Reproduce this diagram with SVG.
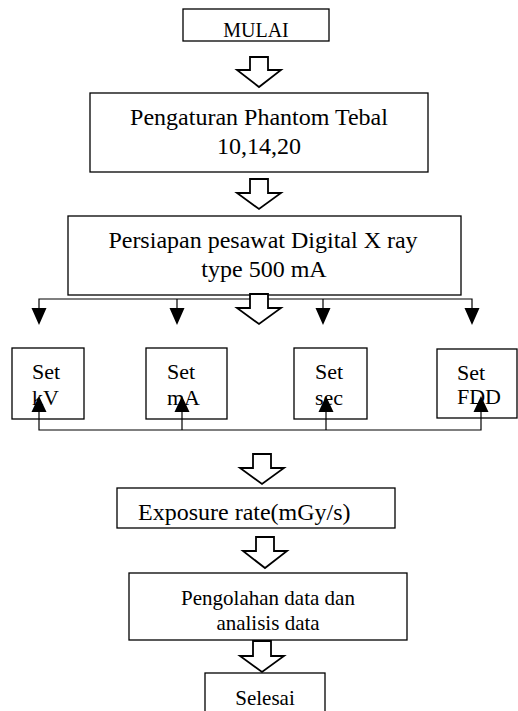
<svg xmlns="http://www.w3.org/2000/svg" width="518" height="711" viewBox="0 0 518 711">
<style>
.box{fill:#fff;stroke:#000;stroke-width:1.3}
.t{font-family:"Liberation Serif","Times New Roman",serif;fill:#000}
.big{font-size:24px}
.mid{font-size:21px}
.hol{fill:#fff;stroke:#000;stroke-width:1.8;stroke-linejoin:miter}
.ln{fill:none;stroke:#000;stroke-width:1.2}
.hd{fill:#000;stroke:none}
</style>
<rect width="518" height="711" fill="#fff"/>
<g id="mulai">
<rect class="box" x="183" y="9" width="146" height="32"/>
<text class="t" x="256" y="37" font-size="20" text-anchor="middle">MULAI</text>
</g>
<g id="pengaturan">
<rect class="box" x="90" y="93" width="338" height="79"/>
<text class="t big" x="259" y="125" text-anchor="middle">Pengaturan Phantom Tebal</text>
<text class="t big" x="259" y="154" text-anchor="middle">10,14,20</text>
</g>
<g id="persiapan">
<rect class="box" x="68" y="216" width="393" height="79"/>
<text class="t big" x="263" y="248" text-anchor="middle">Persiapan pesawat Digital X ray</text>
<text class="t big" x="264" y="277" text-anchor="middle">type 500 mA</text>
</g>
<g id="setkv">
<rect class="box" x="12" y="348" width="72" height="71"/>
<text class="t" x="32" y="379" font-size="22">Set</text>
<text class="t" x="32" y="405" font-size="22">kV</text>
</g>
<g id="setma">
<rect class="box" x="146" y="348" width="81" height="71"/>
<text class="t" x="167" y="379" font-size="22">Set</text>
<text class="t" x="167" y="405" font-size="22">mA</text>
</g>
<g id="setsec">
<rect class="box" x="294" y="348" width="73" height="71"/>
<text class="t" x="315" y="379" font-size="22">Set</text>
<text class="t" x="315" y="405" font-size="22">sec</text>
</g>
<g id="setfdd">
<rect class="box" x="437" y="349" width="80" height="69"/>
<text class="t" x="457" y="380" font-size="22">Set</text>
<text class="t" x="457" y="404" font-size="22">FDD</text>
</g>
<g id="exposure">
<rect class="box" x="117" y="488" width="278" height="40"/>
<text class="t big" x="138" y="520">Exposure rate(mGy/s)</text>
</g>
<g id="pengolahan">
<rect class="box" x="129" y="573" width="278" height="67"/>
<text class="t mid" x="268" y="605" text-anchor="middle">Pengolahan data dan</text>
<text class="t mid" x="268" y="630" text-anchor="middle">analisis data</text>
</g>
<g id="selesai">
<rect class="box" x="205" y="673" width="120" height="50"/>
<text class="t mid" x="265" y="705" text-anchor="middle">Selesai</text>
</g>
<g id="connectors">
<path class="hol" d="M250,57 H268 V70 H281 L259,87 L237,70 H250 Z"/>
<path class="hol" d="M250,179 H268 V193 H281 L259,209 L237,193 H250 Z"/>
<path class="ln" d="M39,308 V299 H472 V308 M177,299 V308 M323,299 V308"/>
<path class="hol" d="M250,294 H268 V308 H281 L259,324 L237,308 H250 Z"/>
<path class="hd" d="M31.5,308 H46.5 L39,325 Z M169.5,308 H184.5 L177,325 Z M315.5,308 H330.5 L323,325 Z M464.5,308 H479.5 L472,325 Z"/>
<path class="ln" d="M39,412 V430 H481 V412 M182,430 V412 M326,430 V412"/>
<path class="hd" d="M31.5,412 H46.5 L39,396 Z M174.5,412 H189.5 L182,396 Z M318.5,412 H333.5 L326,396 Z M473.5,412 H488.5 L481,396 Z"/>
<path class="hol" d="M253,454 H271 V468 H284 L262,484 L240,468 H253 Z"/>
<path class="hol" d="M256,537 H274 V551 H287 L265,568 L243,551 H256 Z"/>
<path class="hol" d="M253,641 H271 V656 H284 L262,672 L240,656 H253 Z"/>
</g>
</svg>
